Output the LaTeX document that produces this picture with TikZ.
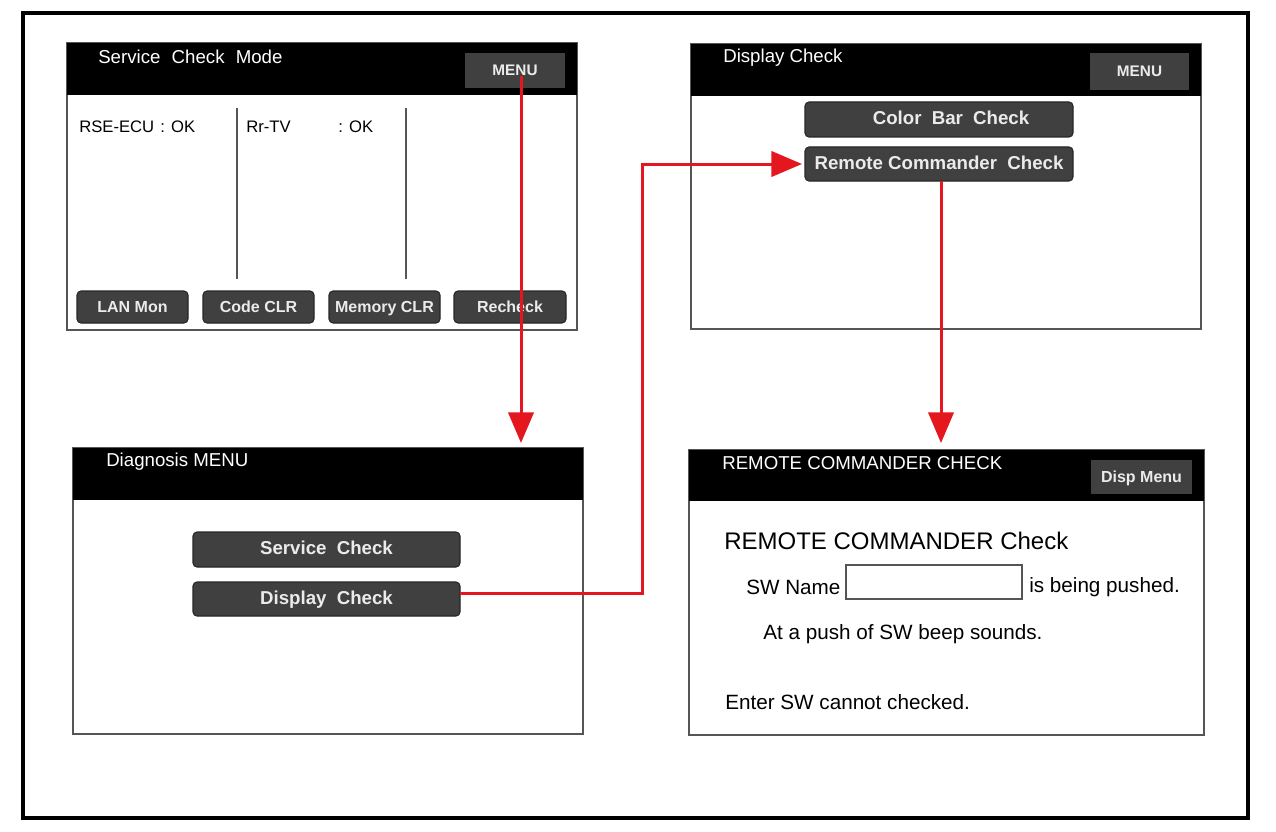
\documentclass[tikz,border=0pt]{standalone}
\usepackage{fontspec}
\setmainfont{Liberation Sans}
\usetikzlibrary{fit,arrows.meta}
\definecolor{arrred}{RGB}{228,22,30}
\definecolor{btngray}{RGB}{64,64,64}
\definecolor{edgegray}{RGB}{85,85,85}
\begin{document}
\begin{tikzpicture}[x=0.75pt,y=-0.75pt,
 frame/.style={draw=black, line width=3pt, inner sep=0pt, outer sep=0pt},
 panel/.style={draw=edgegray, line width=1.5pt, inner sep=0pt, outer sep=0pt},
 header/.style={fill=black, inner sep=0pt, outer sep=0pt},
 hbtn/.style={fill=btngray, inner sep=0pt, outer sep=0pt},
 btn/.style={fill=btngray, draw=black!85, line width=0.8pt, rounded corners=3pt, inner sep=0pt, outer sep=0pt},
 blabel/.style={inner sep=0pt, text height=1.6ex, text depth=0.1ex, text=white!92!black, font=\bfseries\fontsize{12}{14}\selectfont},
 biglabel/.style={blabel, font=\bfseries\fontsize{14}{16}\selectfont},
 hlabel/.style={blabel, font=\bfseries\fontsize{11.5}{13}\selectfont},
 htitle/.style={anchor=west, inner sep=0pt, text=white, font=\fontsize{14}{16}\selectfont},
 ptext/.style={anchor=west, inner sep=0pt, font=\fontsize{12.5}{14}\selectfont},
 swtext/.style={anchor=west, inner sep=0pt, font=\fontsize{15.5}{18}\selectfont},
 divider/.style={draw=edgegray, line width=1.5pt},
 flow/.style={draw=arrred, line width=2.25pt, -{Triangle[length=23pt,width=19pt]}},
]
\useasboundingbox (0,0) rectangle (1276,831);
\node[frame, fit={(23,13) (1248,818)}] (outer) {};

% ---- Panel 1: Service Check Mode
\node[panel, fit={(67,43) (577,330)}] (p1) {};
\node[header, fit={(67,43) (577,95)}] (h1) {};
\node[htitle] (t1) at (98,57) {Service\hspace{0.6em}Check\hspace{0.6em}Mode};
\node[hbtn, fit={(465,53) (565,88)}] (menu1) {};
\node[hlabel] (menu1t) at (menu1.center) {MENU};
\draw[divider] (237,108) -- (237,279);
\draw[divider] (406,108) -- (406,279);
\node[ptext] (rse) at (79,127) {RSE-ECU};
\node[ptext] (rseok) at (160,127) {: OK};
\node[ptext] (rrtv) at (246,127) {Rr-TV};
\node[ptext] (rrok) at (338,127) {: OK};
\node[btn, fit={(77,291) (188,323)}] (lan) {};
\node[blabel] (lant) at (lan.center) {LAN Mon};
\node[btn, fit={(203,291) (314,323)}] (code) {};
\node[blabel] (codet) at (code.center) {Code CLR};
\node[btn, fit={(329,291) (440,323)}] (mem) {};
\node[blabel] (memt) at (mem.center) {Memory CLR};
\node[btn, fit={(454,291) (566,323)}] (rech) {};
\node[blabel] (recht) at (rech.center) {Recheck};

% ---- Panel 2: Display Check
\node[panel, fit={(691,44) (1201,329)}] (p2) {};
\node[header, fit={(691,44) (1201,96)}] (h2) {};
\node[htitle] (t2) at (723,58) {Display Check};
\node[hbtn, fit={(1090,53) (1189,90)}] (menu2) {};
\node[hlabel] (menu2t) at (menu2.center) {MENU};
\node[btn, fit={(805,102) (1073,137)}] (cbc) {};
\node[biglabel] (cbct) at ([xshift=9pt]cbc.center) {Color\hspace{0.55em}Bar\hspace{0.55em}Check};
\node[btn, fit={(805,147) (1073,181)}] (rcc) {};
\node[biglabel] (rcct) at (rcc.center) {Remote Commander\hspace{0.55em}Check};

% ---- Panel 3: Diagnosis MENU
\node[panel, fit={(73,448) (583,734)}] (p3) {};
\node[header, fit={(73,448) (583,500)}] (h3) {};
\node[htitle] (t3) at (106,462) {Diagnosis MENU};
\node[btn, fit={(193,532) (460,567)}] (sc) {};
\node[biglabel] (sct) at (sc.center) {Service\hspace{0.55em}Check};
\node[btn, fit={(193,582) (460,616)}] (dc) {};
\node[biglabel] (dct) at (dc.center) {Display\hspace{0.55em}Check};

% ---- Panel 4: REMOTE COMMANDER CHECK
\node[panel, fit={(689,450) (1204,735)}] (p4) {};
\node[header, fit={(689,450) (1204,501)}] (h4) {};
\node[htitle] (t4) at (722,463) {REMOTE COMMANDER CHECK};
\node[hbtn, fit={(1091,460) (1192,494)}] (disp) {};
\node[blabel] (dispt) at (disp.center) {Disp Menu};
\node[anchor=west, inner sep=0pt, font=\fontsize{18}{21}\selectfont] (rct) at (724,541) {REMOTE COMMANDER Check};
\node[swtext] (swn) at (746,587) {SW Name};
\node[draw=edgegray, line width=1.2pt, inner sep=0pt, fit={(846,565) (1022,599)}] (swbox) {};
\node[swtext] (push) at (1029,587) {is being pushed.};
\node[swtext] (beep) at (763,634) {At a push of SW beep sounds.};
\node[swtext] (enter) at (725,702) {Enter SW cannot checked.};

% ---- connectors
\coordinate (a1) at (521,76);
\coordinate (a2) at (460,593);
\coordinate (bend) at (642,593);
\draw[flow, shorten >=3.75pt] (a1) -- (a1 |- p3.north);
\draw[flow, shorten >=2.25pt] (a2) -- (bend) |- (rcc.west);
\draw[flow, shorten >=5.25pt] ([xshift=1.5pt]rcc.south) -- ([xshift=1.5pt]rcc.south |- p4.north);
\end{tikzpicture}
\end{document}
